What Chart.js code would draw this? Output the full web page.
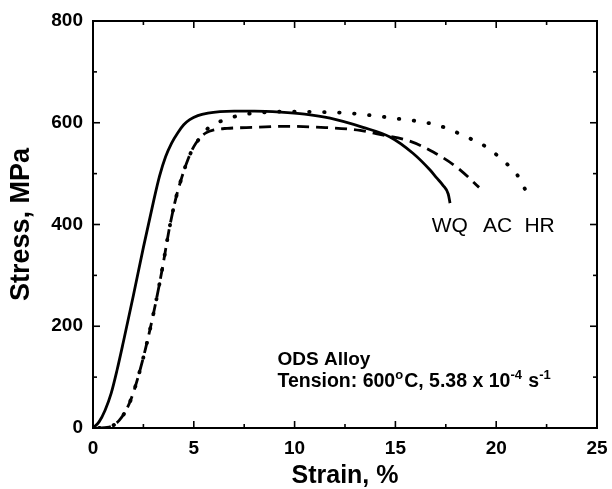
<!DOCTYPE html>
<html><head><meta charset="utf-8">
<script src="https://cdn.jsdelivr.net/npm/chart.js@4/dist/chart.umd.min.js"></script>
<style>html,body{margin:0;padding:0;background:#fff}</style>
</head><body>
<canvas id="c" width="612" height="489" style="display:block;width:612px;height:489px"></canvas>
<script>
// ---- data (strain %, stress MPa) ----
const wqStrain = [0, 0.3, 0.6, 0.9, 1.2, 1.5, 2.0, 2.5, 3.0, 3.3, 3.6, 3.9, 4.2, 4.5, 4.8, 5.2, 5.7, 6.3, 7.0, 8.0, 9.3, 10.5, 11.76, 13.39, 14.73, 15.87, 16.72, 17.06, 17.36, 17.62, 17.71];
const wqStress = [0, 12, 35, 68, 115, 168, 260, 355, 445, 495, 533, 560, 580, 596, 606, 614, 619, 622, 623, 623, 621, 617, 609, 591, 572, 540, 507, 491, 477, 460, 442];

const acStrain = [0.3, 0.7, 1.0, 1.3, 1.6, 1.9, 2.2, 2.6, 3.0, 3.4, 3.8, 4.1, 4.4, 4.7, 5.0, 5.3, 5.6, 6.0, 6.65, 8.1, 9.4, 11.3, 13.25, 14.35, 15.7, 16.9, 18.1, 19.15];
const acStress = [0, 1, 5, 15, 32, 58, 95, 155, 225, 305, 395, 450, 492, 527, 553, 570, 580, 586, 589, 591, 593, 591, 585, 576, 564, 542, 511, 473];

const hrStrain = [0.3, 0.7, 1.0, 1.3, 1.6, 1.9, 2.2, 2.6, 3.0, 3.4, 3.8, 4.1, 4.4, 4.7, 5.0, 5.3, 5.7, 6.15, 6.65, 7.3, 8.4, 9.6, 11.3, 12.6, 14.9, 17.1, 18.65, 19.6, 20.3, 21.05, 21.5];
const hrStress = [0, 1, 5, 15, 32, 58, 95, 155, 225, 305, 395, 450, 492, 527, 553, 570, 589, 600, 607, 615, 620, 622, 621, 619, 609, 595, 570, 550, 527, 497, 464];

const curveLabels = ['WQ', 'AC', 'HR'];
const labelStrain = [16.8, 19.35, 21.4];
const labelStress = [385, 385, 385];

const xTitle = 'Strain, %';
const yTitle = 'Stress, MPa';
const noteTitle = 'ODS Alloy';

const FONT = '"Liberation Sans", Arial, Helvetica, sans-serif';

function pts(xs, ys) { return xs.map((x, i) => ({ x: x, y: ys[i] })); }

const framePlugin = {
  id: 'frame',
  afterDraw(chart) {
    const ctx = chart.ctx, a = chart.chartArea, xs = chart.scales.x, ys = chart.scales.y;
    ctx.save();
    ctx.strokeStyle = '#000';
    ctx.lineWidth = 2;
    ctx.strokeRect(a.left, a.top, a.right - a.left, a.bottom - a.top);
    ctx.lineWidth = 1.6;
    const seg = (x1, y1, x2, y2) => { ctx.beginPath(); ctx.moveTo(x1, y1); ctx.lineTo(x2, y2); ctx.stroke(); };
    for (let v = xs.min; v <= xs.max + 1e-9; v += 2.5) {
      const p = xs.getPixelForValue(v);
      const L = (Math.abs(v % 5) < 1e-6) ? 7 : 4;
      seg(p, a.bottom, p, a.bottom - L);
      seg(p, a.top, p, a.top + L);
    }
    for (let v = ys.min; v <= ys.max + 1e-9; v += 100) {
      const p = ys.getPixelForValue(v);
      const L = (Math.abs(v % 200) < 1e-6) ? 7 : 4;
      seg(a.left, p, a.left + L, p);
      seg(a.right, p, a.right - L, p);
    }
    // curve labels
    ctx.fillStyle = '#000';
    ctx.textBaseline = 'alphabetic';
    ctx.textAlign = 'left';
    ctx.font = '21px ' + FONT;
    curveLabels.forEach((t, i) => {
      ctx.fillText(t, xs.getPixelForValue(labelStrain[i]), ys.getPixelForValue(labelStress[i]));
    });
    // note
    const nx = xs.getPixelForValue(9.15);
    const ny1 = ys.getPixelForValue(124);
    const ny2 = ys.getPixelForValue(81);
    ctx.font = 'bold 19px ' + FONT;
    ctx.fillText(noteTitle, nx, ny1);
    const parts = [
      ['Tension: 600', false], ['o', true], ['C, 5.38 x 10', false], ['-4', true], [' s', false], ['-1', true]
    ];
    let cx = nx;
    parts.forEach(([t, sup]) => {
      ctx.font = sup ? 'bold 13px ' + FONT : 'bold 19.5px ' + FONT;
      ctx.fillText(t, cx, sup ? ny2 - 8 : ny2);
      cx += ctx.measureText(t).width + (sup ? 1 : 0);
    });
    ctx.restore();
  }
};

const tickFont = { family: FONT, size: 19, weight: 'bold' };

new Chart(document.getElementById('c'), {
  type: 'line',
  data: {
    datasets: [
      { label: 'WQ', data: pts(wqStrain, wqStress), borderColor: '#000', borderWidth: 2.8, pointRadius: 0, cubicInterpolationMode: 'monotone', fill: false },
      { label: 'AC', data: pts(acStrain, acStress), borderColor: '#000', borderWidth: 2.8, borderDash: [12, 7], pointRadius: 0, cubicInterpolationMode: 'monotone', fill: false },
      { label: 'HR', data: pts(hrStrain, hrStress), borderColor: '#000', borderWidth: 3.8, borderDash: [0.5, 14.5], borderCapStyle: 'round', pointRadius: 0, cubicInterpolationMode: 'monotone', fill: false }
    ]
  },
  options: {
    responsive: false,
    animation: false,
    layout: { padding: { top: 21, right: 15, left: 0, bottom: 0 } },
    plugins: { legend: { display: false }, tooltip: { enabled: false } },
    scales: {
      x: {
        type: 'linear', min: 0, max: 25,
        ticks: { stepSize: 5, padding: 9, color: '#000', font: tickFont, maxRotation: 0 },
        grid: { display: false, drawTicks: false },
        border: { display: false },
        title: { display: true, text: xTitle, color: '#000', font: { family: FONT, size: 25, weight: 'bold', lineHeight: 1 }, padding: { top: 0, bottom: 0 } },
        afterFit(s) { s.height = 61; s.paddingLeft = 0; s.paddingRight = 0; }
      },
      y: {
        type: 'linear', min: 0, max: 800,
        ticks: { stepSize: 200, padding: 10, color: '#000', font: tickFont },
        grid: { display: false, drawTicks: false },
        border: { display: false },
        title: { display: true, text: yTitle, color: '#000', font: { family: FONT, size: 27, weight: 'bold', lineHeight: 1 }, padding: { top: 8, bottom: 0 } },
        afterFit(s) { s.width = 93; s.paddingTop = 0; s.paddingBottom = 0; }
      }
    }
  },
  plugins: [framePlugin]
});
</script>
</body></html>
